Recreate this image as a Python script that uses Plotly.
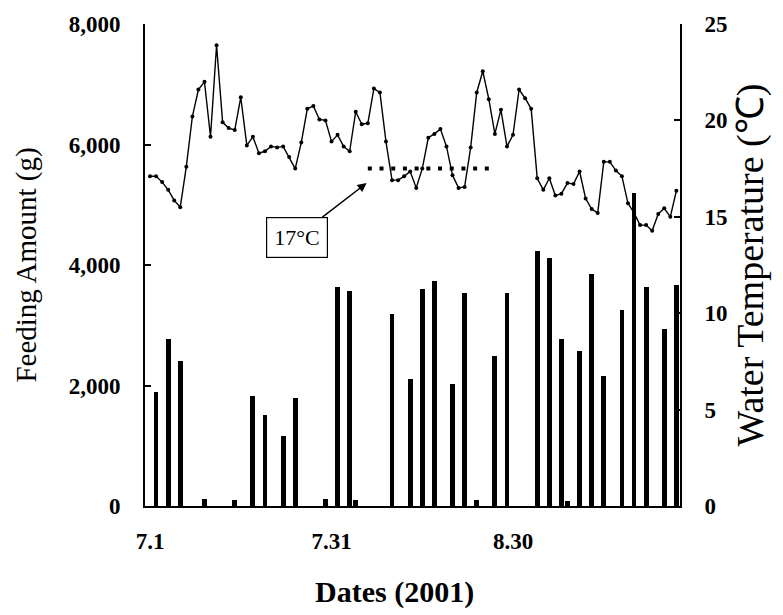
import plotly.graph_objects as go

# ---- data ----
# day index: 0 = 7.1 (July 1, 2001)
temp_days = list(range(88))
water_temp = [17.1, 17.1, 16.8, 16.4, 15.85, 15.5, 17.6, 20.2, 21.6, 22.0,
              19.15, 23.9, 19.9, 19.6, 19.5, 21.2, 18.7, 19.15, 18.3, 18.4,
              18.65, 18.6, 18.65, 18.1, 17.5, 18.85, 20.6, 20.75, 20.05, 20.0,
              18.9, 19.25, 18.65, 18.4, 20.45, 19.8, 19.85, 21.65, 21.45, 18.9,
              16.9, 16.9, 17.1, 17.35, 16.5, 17.5, 19.1, 19.3, 19.55, 18.65,
              17.15, 16.5, 16.55, 18.6, 21.45, 22.55, 21.1, 19.3, 20.55, 18.65,
              19.25, 21.6, 21.15, 20.6, 17.0, 16.4, 17.0, 16.1, 16.2, 16.75,
              16.7, 17.35, 15.95, 15.4, 15.2, 17.85, 17.85, 17.4, 17.1, 15.7,
              15.2, 14.57, 14.57, 14.28, 15.15, 15.44, 15.0, 16.35]

feed_days = [1, 3, 5, 9, 14, 17, 19, 22, 24, 29, 31, 33, 34, 40, 43, 45, 47,
             50, 52, 54, 57, 59, 64, 66, 68, 69, 71, 73, 75, 78, 80, 82, 85, 87]
feed_amount = [1900, 2780, 2400, 120, 100, 1830, 1510, 1160, 1800, 120, 3640,
               3570, 100, 3180, 2110, 3610, 3740, 2025, 3530, 100, 2490, 3530,
               4230, 4120, 2780, 80, 2580, 3850, 2160, 3260, 5200, 3640, 2940,
               3660]

x_tick_days = [0, 30, 60]
x_tick_labels = ["7.1", "7.31", "8.30"]
left_ticks = [0, 2000, 4000, 6000, 8000]
right_ticks = [0, 5, 10, 15, 20, 25]

threshold_temp = 17.5
threshold_days = [36, 56]
threshold_label = "17°C"

SERIF = "Liberation Serif, Times New Roman, serif"

fig = go.Figure()

fig.add_trace(go.Bar(
    x=feed_days, y=feed_amount, width=0.8,
    marker=dict(color="black", line=dict(width=0)),
    yaxis="y", showlegend=False,
))

fig.add_trace(go.Scatter(
    x=temp_days, y=water_temp, mode="lines+markers",
    line=dict(color="black", width=1.4),
    marker=dict(color="black", size=4),
    yaxis="y2", showlegend=False,
))

fig.add_trace(go.Scatter(
    x=threshold_days, y=[threshold_temp, threshold_temp], mode="lines",
    line=dict(color="black", width=4, dash="4px,7.7px"),
    yaxis="y2", showlegend=False,
))

fig.add_annotation(
    x=35.8, y=16.75, xref="x", yref="y2",
    text=threshold_label, showarrow=True,
    arrowhead=2, arrowsize=1.2, arrowwidth=1.5, arrowcolor="black",
    ax=-70, ay=54,
    font=dict(family=SERIF, size=22, color="black"),
    bordercolor="black", borderwidth=1.2, borderpad=7, bgcolor="white",
)

fig.add_annotation(
    x=0.467, y=-0.178, xref="paper", yref="paper",
    text="<b>Dates (2001)</b>", showarrow=False,
    xanchor="center", yanchor="middle",
    font=dict(family=SERIF, size=30, color="black"),
)

fig.update_layout(
    width=783, height=615,
    margin=dict(l=145, r=103, t=24, b=109),
    plot_bgcolor="white", paper_bgcolor="white",
    bargap=0,
    font=dict(family=SERIF, color="black"),
    xaxis=dict(
        range=[-0.83, 87.6],
        tickvals=x_tick_days, ticktext=x_tick_labels,
        ticks="", showgrid=False, zeroline=False,
        showline=True, linecolor="black", linewidth=2,
        tickfont=dict(family=SERIF, size=23, color="black", weight="bold"),
        ticklabelstandoff=13,
    ),
    yaxis=dict(
        range=[0, 8000], tickvals=left_ticks, tickformat=",",
        ticks="inside", ticklen=6, tickcolor="black", tickwidth=1.5,
        showgrid=False, zeroline=False,
        showline=True, linecolor="black", linewidth=2,
        tickfont=dict(family=SERIF, size=23, color="black", weight="bold"),
        ticklabelstandoff=18,
        title=dict(text="Feeding Amount (g)", standoff=24,
                   font=dict(family=SERIF, size=29, color="black")),
    ),
    yaxis2=dict(
        range=[0, 25], tickvals=right_ticks,
        overlaying="y", side="right",
        ticks="inside", ticklen=6, tickcolor="black", tickwidth=1.5,
        showgrid=False, zeroline=False,
        showline=True, linecolor="black", linewidth=2,
        tickfont=dict(family=SERIF, size=23, color="black", weight="bold"),
        ticklabelstandoff=18,
        title=dict(text="Water Temperature (℃)", standoff=10,
                   font=dict(family=SERIF, size=38, color="black")),
    ),
)

fig.write_html("out.html")
